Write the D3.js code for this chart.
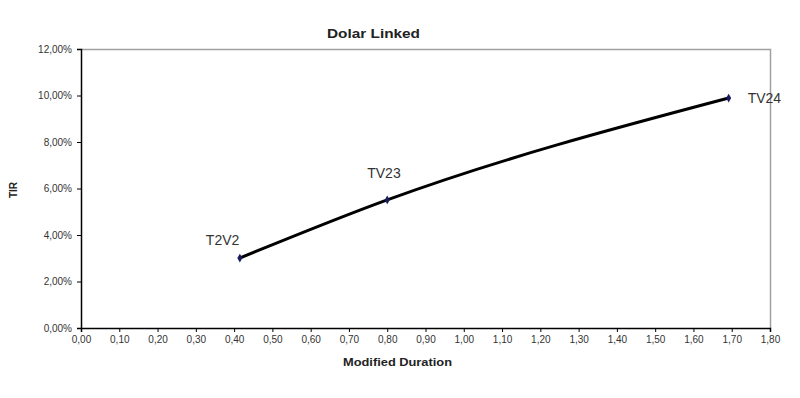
<!DOCTYPE html>
<html>
<head>
<meta charset="utf-8">
<script src="https://cdn.jsdelivr.net/npm/d3@7"></script>
<style>
  body { margin: 0; background: #fff; }
  text { font-family: Arial, "Liberation Sans", sans-serif; }
</style>
</head>
<body>
<div id="chart"></div>
<script>
var svgWidth = 800;
var svgHeight = 398;

var margin = { top: 49, right: 30, bottom: 70, left: 81 };
var width = 770 - margin.left;
var height = 328 - margin.top;

// data
var bonds = ["T2V2", "TV23", "TV24"];
var duration = [0.415, 0.80, 1.692];
var tir = [0.0301, 0.0551, 0.0989];
var xTicks = d3.range(0, 19).map(d => d / 10);
var yTicks = [0, 0.02, 0.04, 0.06, 0.08, 0.10, 0.12];

var points = bonds.map((b, i) => ({ name: b, x: duration[i], y: tir[i] }));

var svg = d3.select("#chart").append("svg")
  .attr("width", svgWidth)
  .attr("height", svgHeight);

var chartGroup = svg.append("g")
  .attr("transform", `translate(${margin.left}, ${margin.top})`);

var xScale = d3.scaleLinear().domain([0, 1.8]).range([0, width]);
var yScale = d3.scaleLinear().domain([0, 0.12]).range([height, 0]);

var comma = d3.formatLocale({ decimal: ",", thousands: ".", grouping: [3], currency: ["", ""] });

// plot border (top and right, grey)
chartGroup.append("path")
  .attr("d", `M0,0.5H${width + 0.5}V${height}`)
  .attr("fill", "none")
  .attr("stroke", "#a0a0a0")
  .attr("stroke-width", 1.5);

var xAxis = chartGroup.append("g")
  .attr("transform", `translate(0, ${height})`)
  .call(d3.axisBottom(xScale).tickValues(xTicks).tickFormat(comma.format(".2f")).tickSize(4).tickPadding(4));

var yAxis = chartGroup.append("g")
  .call(d3.axisLeft(yScale).tickValues(yTicks).tickFormat(comma.format(".2%")).tickSize(4).tickPadding(5));

[xAxis, yAxis].forEach(function (ax) {
  ax.select(".domain").attr("stroke", "#000").attr("stroke-width", 1.5);
  ax.selectAll(".tick line").attr("stroke", "#000");
  ax.selectAll(".tick text")
    .attr("fill", "#333")
    .attr("font-size", "10px")
    .attr("font-family", "Arial, 'Liberation Sans', sans-serif");
});

// smoothed line
var line = d3.line()
  .x(d => xScale(d.x))
  .y(d => yScale(d.y))
  .curve(d3.curveMonotoneX);

chartGroup.append("path")
  .datum(points)
  .attr("d", line)
  .attr("fill", "none")
  .attr("stroke", "#000")
  .attr("stroke-width", 3);

// diamond markers
chartGroup.selectAll(".marker")
  .data(points)
  .enter()
  .append("path")
  .attr("class", "marker")
  .attr("d", d3.symbol().type(d3.symbolDiamond).size(22))
  .attr("transform", d => `translate(${xScale(d.x)}, ${yScale(d.y)})`)
  .attr("fill", "#1a1a5e");

// point labels
var labelOffsets = [[-34, -13], [-20, -22], [19, 5]];
chartGroup.selectAll(".plabel")
  .data(points)
  .enter()
  .append("text")
  .attr("class", "plabel")
  .attr("x", (d, i) => xScale(d.x) + labelOffsets[i][0])
  .attr("y", (d, i) => yScale(d.y) + labelOffsets[i][1])
  .attr("font-size", "14px")
  .attr("fill", "#333")
  .text(d => d.name);

// titles
svg.append("text")
  .attr("x", 327)
  .attr("y", 38)
  .attr("font-size", "13px")
  .attr("font-weight", "bold")
  .attr("fill", "#222")
  .attr("textLength", 93)
  .attr("lengthAdjust", "spacingAndGlyphs")
  .text("Dolar Linked");

svg.append("text")
  .attr("x", 343)
  .attr("y", 366)
  .attr("font-size", "11px")
  .attr("font-weight", "bold")
  .attr("fill", "#222")
  .attr("textLength", 109)
  .attr("lengthAdjust", "spacingAndGlyphs")
  .text("Modified Duration");

svg.append("text")
  .attr("transform", "translate(17, 190) rotate(-90)")
  .attr("text-anchor", "middle")
  .attr("font-size", "10px")
  .attr("font-weight", "bold")
  .attr("fill", "#222")
  .text("TIR");
</script>
</body>
</html>
